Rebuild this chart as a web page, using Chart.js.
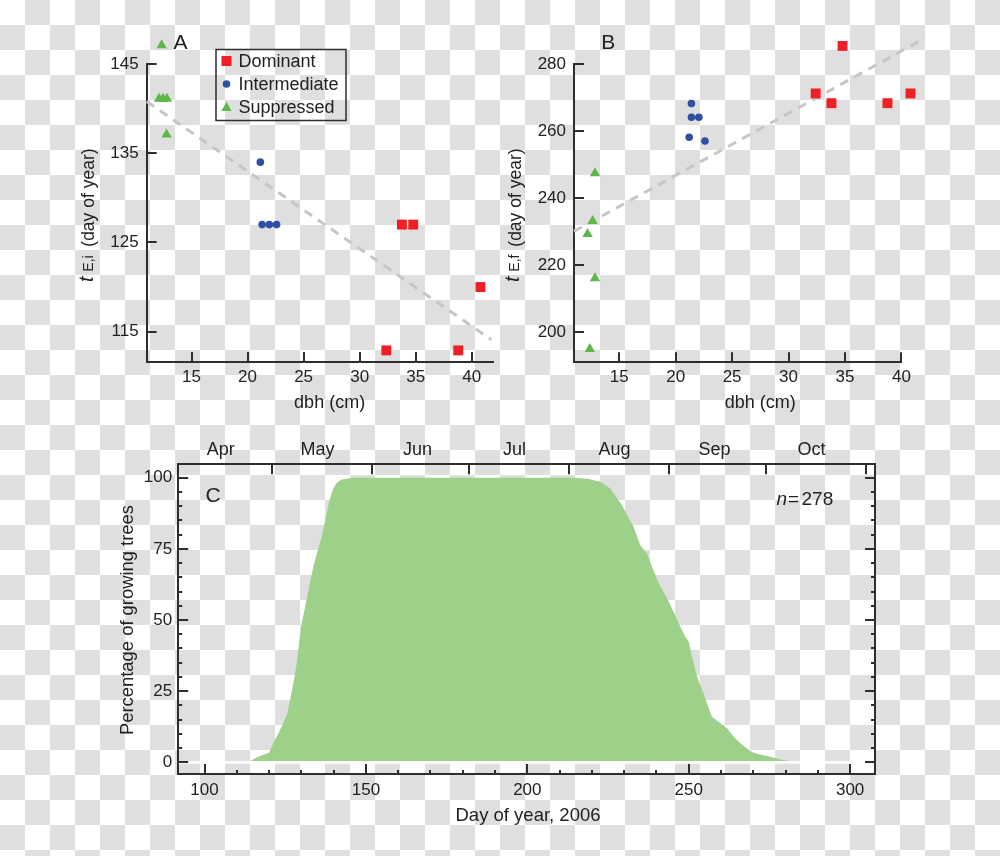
<!DOCTYPE html>
<html><head><meta charset="utf-8">
<script src="https://cdn.jsdelivr.net/npm/chart.js@4"></script>
<style>
html,body{margin:0;padding:0;}
body{width:1000px;height:856px;position:relative;overflow:hidden;
 background:repeating-conic-gradient(#dfdfdf 0 25%, #ffffff 0 50%) 0 0/50px 50px;}
.box{position:absolute;}
</style></head><body>
<div class="box" style="left:0;top:0;width:500px;height:420px"><canvas id="cA"></canvas></div>
<div class="box" style="left:500px;top:0;width:500px;height:420px"><canvas id="cB"></canvas></div>
<div class="box" style="left:0;top:420px;width:1000px;height:436px"><canvas id="cC"></canvas></div>
<script>
// ---------- Panel A data: onset of growth t_E,i ----------
const domA_dbh = [40.78, 32.38, 33.77, 34.78, 38.8];
const domA_t   = [120, 112.9, 127, 127, 112.9];
const intA_dbh = [21.14, 21.3, 21.94, 22.59];
const intA_t   = [134, 127, 127, 127];
const supA_dbh = [12.33, 12.1, 12.45, 12.8, 12.77];
const supA_t   = [147.1, 141.1, 141.1, 141.1, 137.1];
const fitA_dbh = [11, 41.75];
const fitA_t   = [140.8, 114.1];

// ---------- Panel B data: end of growth t_E,f ----------
const domB_dbh = [40.8, 32.4, 33.8, 34.78, 38.76];
const domB_t   = [271.2, 271.2, 268.3, 285.4, 268.3];
const intB_dbh = [21.2, 21.4, 21.4, 22.06, 22.6];
const intB_t   = [258.1, 268.2, 264.1, 264.1, 257];
const supB_dbh = [12.86, 12.65, 12.2, 12.86, 12.4];
const supB_t   = [247.4, 233.1, 229.2, 216, 194.9];
const fitB_dbh = [11, 42.06];
const fitB_t   = [230, 287.7];

// ---------- Panel C data: percentage of growing trees ----------
const growthDay = [113.8,115.7,117.2,120.0,121.3,122.9,124.4,125.7,126.5,127.5,128.6,129.4,130.1,131.2,132.2,133.7,134.8,136.3,137.4,138.7,139.9,141.0,142.5,145.1,146,214.3,218.5,222.6,225.7,227.8,229.3,230.9,232.9,235.0,237.1,238.6,240.7,242.2,243.8,245.8,247.4,248.9,250.0,251.0,252.6,254.6,256.2,257.2,259.8,261.9,263.9,266.0,268.6,270.1,272.7,275.3,278.4,282.5];
const growthPct = [0.2,1.4,2.2,3.4,6.7,10.2,13.7,17.2,21.9,27.7,34.8,43.0,48.8,54.7,60.5,68.7,73.4,79.2,85.1,92.1,96.2,98.2,99.4,99.8,100,100,99.6,98.6,96.2,92.7,90.4,86.9,82.8,76.3,73.4,68.7,62.9,59.9,56.4,51.7,47.6,44.1,42.4,37.1,30.1,24.2,19,16,13.7,11.9,9.0,6.7,4.3,3.4,2.6,2.0,1.0,0.2];
const zeroLineDay = [92, 300];
const zeroLineVal = [0, 0];

// ---------- tick labels ----------
const xTicksAB   = [15, 20, 25, 30, 35, 40];
const yTicksA    = [115, 125, 135, 145];
const yTicksB    = [200, 220, 240, 260, 280];
const dayTicks   = [100, 150, 200, 250, 300];
const dayMinor   = [110,120,130,140,160,170,180,190,210,220,230,240,260,270,280,290];
const pctTicks   = [0, 25, 50, 75, 100];
const pctMinor   = [5,10,15,20,30,35,40,45,55,60,65,70,80,85,90,95];
const monthNames = ['Apr','May','Jun','Jul','Aug','Sep','Oct'];
const monthMid   = [105, 135, 166, 196, 227, 258, 288];
const monthStart = [121, 152, 182, 213, 244, 274, 305];
const seriesNames = ['Dominant','Intermediate','Suppressed'];

const FONT = "'Liberation Sans', Arial, Helvetica, sans-serif";
const AXIS = '#2e2e2e', TXT = '#222222';
const RED = '#ee1f25', BLUE = '#2f4fa3', GREEN = '#5cb848', DASH = '#c6c6c6', FILL = '#9dd089';
Chart.defaults.font.family = FONT;
Chart.defaults.color = TXT;

const pts = (xs, ys) => xs.map((x, i) => ({x, y: ys[i]}));

function drawTicks(chart, specs) {
  const ctx = chart.ctx, a = chart.chartArea;
  ctx.save(); ctx.strokeStyle = AXIS; ctx.lineWidth = 2; ctx.lineCap = 'butt';
  specs.forEach(s => {
    const sc = chart.scales[s.scale];
    s.values.forEach(v => {
      const p = Math.round(sc.getPixelForValue(v));
      ctx.beginPath();
      if (s.edge === 'bottom') { ctx.moveTo(p, a.bottom); ctx.lineTo(p, a.bottom - s.len); }
      if (s.edge === 'top')    { ctx.moveTo(p, a.top);    ctx.lineTo(p, a.top + s.len); }
      if (s.edge === 'left')   { ctx.moveTo(a.left, p);   ctx.lineTo(a.left + s.len, p); }
      if (s.edge === 'right')  { ctx.moveTo(a.right, p);  ctx.lineTo(a.right - s.len, p); }
      ctx.stroke();
    });
  });
  ctx.restore();
}

function marker(ctx, style, x, y, color) {
  ctx.fillStyle = color; ctx.beginPath();
  if (style === 'rect') { ctx.fillRect(x - 5, y - 5, 10, 10); return; }
  if (style === 'circle') { ctx.arc(x, y, 3.8, 0, Math.PI * 2); ctx.fill(); return; }
  const r = 6;
  ctx.moveTo(x, y - r); ctx.lineTo(x + r * 0.866, y + r / 2); ctx.lineTo(x - r * 0.866, y + r / 2); ctx.closePath(); ctx.fill();
}

function yTitle(ctx, bx, sy, sub) {
  ctx.save();
  ctx.translate(bx, sy); ctx.rotate(-Math.PI / 2);
  ctx.fillStyle = TXT; ctx.textBaseline = 'alphabetic'; ctx.textAlign = 'left';
  ctx.font = "italic 20px " + FONT; ctx.fillText('t', 0, -1.8);
  ctx.font = "14px " + FONT; ctx.fillText(sub, 10.3, -1.3);
  ctx.font = "17.5px " + FONT; ctx.fillText('(day of year)', 35.3, 0);
  ctx.restore();
}

// draw the marks that fall outside the axes (as in the reference)
const outsidePoints = {
  id: 'outsidePoints',
  afterDatasetsDraw(chart) {
    const big = {left: -1e5, top: -1e5, right: 1e5, bottom: 1e5};
    const a = chart.chartArea;
    chart.data.datasets.forEach((ds, i) => {
      if (ds.showLine) return;
      chart.getDatasetMeta(i).data.forEach(el => {
        if (el.x < a.left || el.x > a.right || el.y < a.top || el.y > a.bottom) el.draw(chart.ctx, big);
      });
    });
  }
};

const decoAB = {
  id: 'decoAB',
  afterDraw(chart, args, o) {
    const ctx = chart.ctx;
    drawTicks(chart, [
      {scale: 'x', values: xTicksAB, edge: 'bottom', len: 10},
      {scale: 'y', values: o.yTicks, edge: 'left', len: 10}
    ]);
    ctx.save();
    ctx.fillStyle = TXT; ctx.font = "21px " + FONT; ctx.textAlign = 'center'; ctx.textBaseline = 'middle';
    ctx.fillText(o.letter, o.letterX, 43.5);
    ctx.font = "18px " + FONT; ctx.textBaseline = 'middle';
    ctx.fillText('dbh (cm)', (chart.scales.x.getPixelForValue(15) + chart.scales.x.getPixelForValue(40)) / 2 + o.titleDx, 403);
    ctx.restore();
    yTitle(ctx, o.titleX, 282, o.sub);
    if (o.legend) {
      ctx.save();
      ctx.strokeStyle = AXIS; ctx.lineWidth = 1.5;
      ctx.strokeRect(216, 49.5, 130, 71);
      const cols = [RED, BLUE, GREEN], st = ['rect', 'circle', 'triangle'], ys = [61, 84, 107];
      ctx.font = "18px " + FONT; ctx.textBaseline = 'middle'; ctx.textAlign = 'left';
      seriesNames.forEach((n, i) => {
        marker(ctx, st[i], 226.5, ys[i] + (i === 2 ? 1 : 0), cols[i]);
        ctx.fillStyle = TXT; ctx.fillText(n, 238.5, ys[i] + 1);
      });
      ctx.restore();
    }
  }
};

function scatterCfg(d, o) {
  return {
    type: 'scatter',
    data: { datasets: [
      {label: seriesNames[0], data: pts(d.domX, d.domY), pointStyle: 'rect', pointRadius: 7, backgroundColor: RED, borderWidth: 0, clip: false, order: 1},
      {label: seriesNames[1], data: pts(d.intX, d.intY), pointStyle: 'circle', pointRadius: 3.8, backgroundColor: BLUE, borderWidth: 0, clip: false, order: 1},
      {label: seriesNames[2], data: pts(d.supX, d.supY), pointStyle: 'triangle', pointRadius: 6, backgroundColor: GREEN, borderWidth: 0, clip: false, order: 1},
      {label: 'fit', data: pts(d.fitX, d.fitY), showLine: true, pointRadius: 0, borderColor: DASH, borderWidth: 3, borderDash: [9, 7], clip: false, order: 5}
    ]},
    options: {
      responsive: true, maintainAspectRatio: false, animation: false, events: [],
      layout: {padding: {left: 0, right: o.padRight, top: o.top, bottom: 0}},
      plugins: {legend: {display: false}, tooltip: {enabled: false}, decoAB: o.deco},
      scales: {
        x: {type: 'linear', min: o.xMin, max: o.xMax,
            afterFit(s) { s.height = o.xH; },
            afterBuildTicks(s) { s.ticks = xTicksAB.map(v => ({value: v})); },
            grid: {display: false, drawTicks: false},
            border: {display: true, color: AXIS, width: 2},
            ticks: {padding: 5, color: TXT, font: {size: 17}, maxRotation: 0, autoSkip: false}},
        y: {type: 'linear', min: o.yMin, max: o.yMax,
            afterFit(s) { s.width = o.yW; },
            afterBuildTicks(s) { s.ticks = o.deco.yTicks.map(v => ({value: v})); },
            grid: {display: false, drawTicks: false},
            border: {display: true, color: AXIS, width: 2},
            ticks: {padding: 8, color: TXT, font: {size: 17}, autoSkip: false}}
      }
    },
    plugins: [outsidePoints, decoAB]
  };
}

new Chart(document.getElementById('cA'), scatterCfg(
  {domX: domA_dbh, domY: domA_t, intX: intA_dbh, intY: intA_t, supX: supA_dbh, supY: supA_t, fitX: fitA_dbh, fitY: fitA_t},
  {xMin: 11, xMax: 41.9, yMin: 111.6, yMax: 145, padRight: 5, top: 64, xH: 58, yW: 146.7,
   deco: {yTicks: yTicksA, letter: 'A', letterX: 180.5, sub: 'E,i', titleX: 94.3, legend: true, titleDx: -2}}));

new Chart(document.getElementById('cB'), scatterCfg(
  {domX: domB_dbh, domY: domB_t, intX: intB_dbh, intY: intB_t, supX: supB_dbh, supY: supB_t, fitX: fitB_dbh, fitY: fitB_t},
  {xMin: 11, xMax: 40.02, yMin: 190.9, yMax: 280, padRight: 98.3, top: 64, xH: 57.7, yW: 74,
   deco: {yTicks: yTicksB, letter: 'B', letterX: 108.3, sub: 'E,f', titleX: 20.6, legend: false, titleDx: 0}}));

// ---------- Panel C ----------
const decoC = {
  id: 'decoC',
  afterDraw(chart) {
    const ctx = chart.ctx, a = chart.chartArea;
    ctx.save();
    ctx.strokeStyle = AXIS; ctx.lineWidth = 2;
    ctx.beginPath(); ctx.moveTo(a.right, a.top); ctx.lineTo(a.right, a.bottom); ctx.stroke();
    ctx.restore();
    drawTicks(chart, [
      {scale: 'x', values: dayTicks, edge: 'bottom', len: 10},
      {scale: 'x', values: dayMinor, edge: 'bottom', len: 4},
      {scale: 'x', values: monthStart, edge: 'top', len: 10},
      {scale: 'y', values: pctTicks, edge: 'left', len: 10},
      {scale: 'y', values: pctMinor, edge: 'left', len: 4},
      {scale: 'y', values: pctTicks, edge: 'right', len: 10},
      {scale: 'y', values: pctMinor, edge: 'right', len: 4}
    ]);
    ctx.save();
    ctx.fillStyle = TXT; ctx.textAlign = 'center'; ctx.textBaseline = 'middle';
    ctx.font = "21px " + FONT; ctx.fillText('C', 213, 76);
    ctx.font = "18.5px " + FONT; ctx.fillText('Day of year, 2006', 528, 396);
    ctx.textAlign = 'left'; ctx.textBaseline = 'alphabetic';
    ctx.font = "italic 19px " + FONT; ctx.fillText('n', 776.5, 84.5);
    ctx.font = "19px " + FONT; ctx.fillText('=', 788, 84.5); ctx.fillText('278', 801.5, 84.5);
    ctx.translate(128, 200); ctx.rotate(-Math.PI / 2);
    ctx.textAlign = 'center'; ctx.textBaseline = 'middle';
    ctx.font = "18.4px " + FONT; ctx.fillText('Percentage of growing trees', 0, 0);
    ctx.restore();
  }
};

new Chart(document.getElementById('cC'), {
  type: 'line',
  data: { datasets: [
    {label: 'growing', data: pts(growthDay, growthPct), fill: 'origin', backgroundColor: FILL, borderWidth: 0, borderColor: FILL, pointRadius: 0, tension: 0, order: 2},
    {label: 'zero', data: pts(zeroLineDay, zeroLineVal), fill: false, borderColor: '#ffffff', borderWidth: 2.6, pointRadius: 0, order: 1}
  ]},
  options: {
    responsive: true, maintainAspectRatio: false, animation: false, events: [],
    layout: {padding: {left: 0, right: 125, top: 0, bottom: 0}},
    plugins: {legend: {display: false}, tooltip: {enabled: false}},
    scales: {
      x: {type: 'linear', position: 'bottom', min: 91.85, max: 307.7,
          afterFit(s) { s.height = 82; },
          afterBuildTicks(s) { s.ticks = dayTicks.map(v => ({value: v})); },
          grid: {display: false, drawTicks: false},
          border: {display: true, color: AXIS, width: 2},
          ticks: {padding: 6, color: TXT, font: {size: 17}, maxRotation: 0, autoSkip: false}},
      x2: {type: 'linear', position: 'top', min: 91.85, max: 307.7,
          afterFit(s) { s.height = 44.3; },
          afterBuildTicks(s) { s.ticks = monthMid.map(v => ({value: v})); },
          grid: {display: false, drawTicks: false},
          border: {display: true, color: AXIS, width: 2},
          ticks: {padding: 3, color: TXT, font: {size: 18}, maxRotation: 0, autoSkip: false,
                  callback: (v) => monthNames[monthMid.indexOf(v)]}},
      y: {type: 'linear', min: -4.1, max: 104.7,
          afterFit(s) { s.width = 178.2; },
          afterBuildTicks(s) { s.ticks = pctTicks.map(v => ({value: v})); },
          grid: {display: false, drawTicks: false},
          border: {display: true, color: AXIS, width: 2},
          ticks: {padding: 6, color: TXT, font: {size: 17}, autoSkip: false}}
    }
  },
  plugins: [decoC]
});
</script>
</body></html>
